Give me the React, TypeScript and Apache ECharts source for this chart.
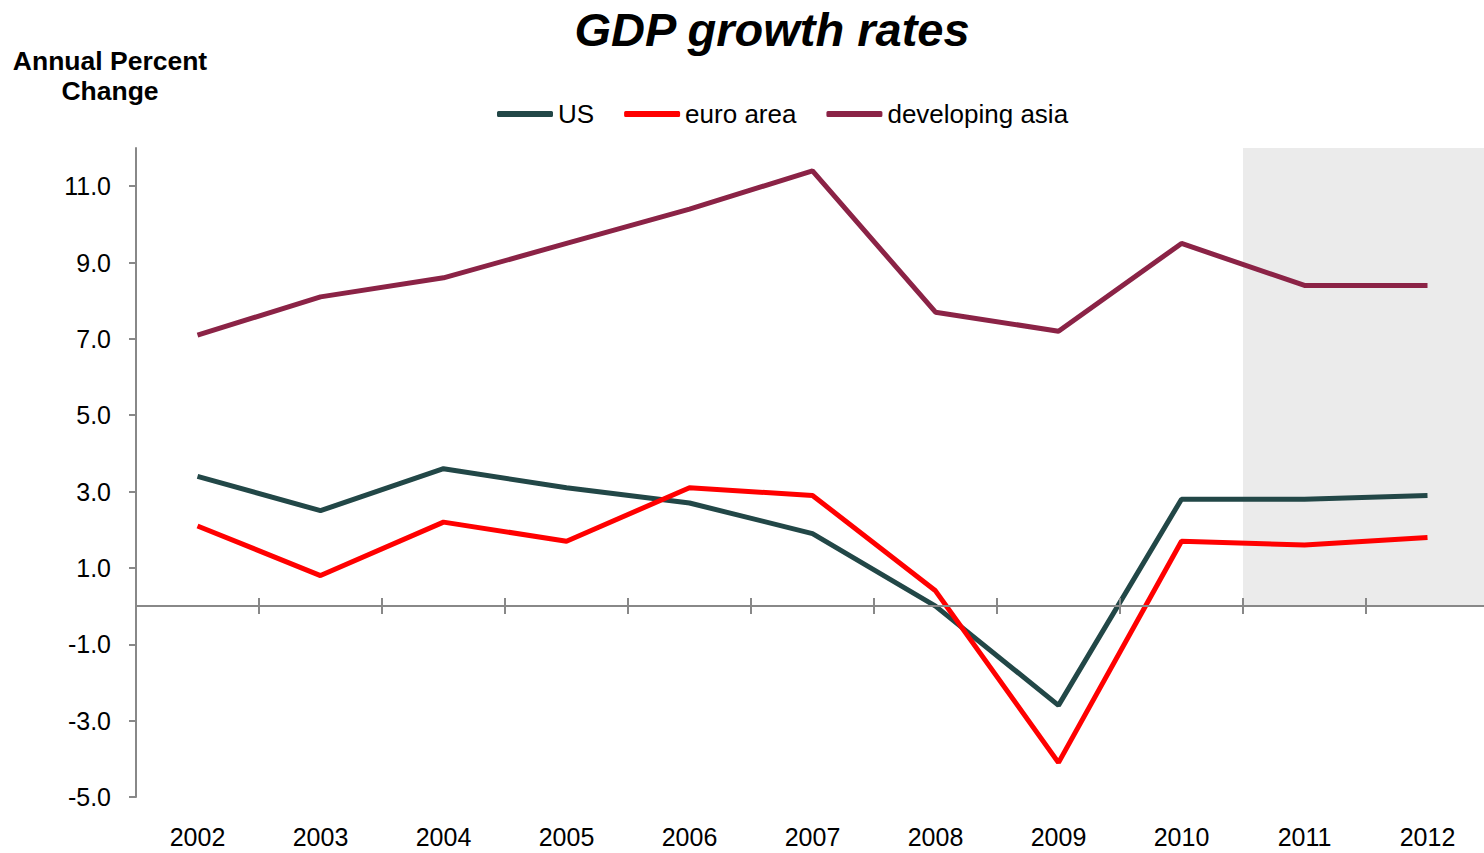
import React, { useEffect, useRef } from "react";
import * as echarts from "echarts";

const years = ["2002", "2003", "2004", "2005", "2006", "2007", "2008", "2009", "2010", "2011", "2012"];
const usGrowth = [3.4, 2.5, 3.6, 3.1, 2.7, 1.9, 0.0, -2.6, 2.8, 2.8, 2.9];
const euroGrowth = [2.1, 0.8, 2.2, 1.7, 3.1, 2.9, 0.4, -4.1, 1.7, 1.6, 1.8];
const asiaGrowth = [7.1, 8.1, 8.6, 9.5, 10.4, 11.4, 7.7, 7.2, 9.5, 8.4, 8.4];
const projectionYears = ["2011", "2012"];
const yTicks = [-5, -3, -1, 1, 3, 5, 7, 9, 11];
const yMin = -5;
const yMax = 12;
const seriesNames = ["US", "euro area", "developing asia"];
const titleText = "GDP growth rates";
const yAxisTitle = "Annual Percent\nChange";

const FONT = "'Liberation Sans', Arial, Helvetica, sans-serif";
const AXIS_GRAY = "#888888";

export default function App() {
  const ref = useRef<HTMLDivElement>(null);
  useEffect(() => {
    if (!ref.current) return;
    const chart = echarts.init(ref.current, undefined, { renderer: "svg" });
    const shade = years.map((y) => (projectionYears.includes(y) ? yMax : null));
    const tickAxisCommon = {
      type: "category",
      data: years,
      boundaryGap: true,
      axisLabel: { show: false },
      z: 5,
    };
    chart.setOption({
      animation: false,
      textStyle: { fontFamily: FONT },
      graphic: [
        {
          type: "text",
          x: 772,
          y: 6,
          style: {
            text: titleText,
            font: `italic bold 47px ${FONT}`,
            fill: "#000",
            textAlign: "center",
            textVerticalAlign: "top",
          },
        },
        {
          type: "text",
          x: 110,
          y: 46,
          style: {
            text: yAxisTitle,
            font: `bold 26.5px ${FONT}`,
            fill: "#000",
            textAlign: "center",
            textVerticalAlign: "top",
            lineHeight: 30,
          },
        },
      ],
      legend: {
        data: seriesNames,
        left: 492,
        top: 96,
        icon: "roundRect",
        itemWidth: 56,
        itemHeight: 6,
        itemGap: 30,
        textStyle: { fontSize: 26, color: "#000", fontFamily: FONT },
      },
      grid: { left: 136, right: 0, top: 148, bottom: 56, containLabel: false },
      xAxis: [
        {
          type: "category",
          data: years,
          position: "bottom",
          boundaryGap: true,
          axisLine: { show: false, onZero: false },
          axisTick: { show: false },
          axisLabel: { fontSize: 25, color: "#000", margin: 27, fontFamily: FONT },
        },
        {
          ...tickAxisCommon,
          position: "bottom",
          axisLine: { show: true, onZero: true, onZeroAxisIndex: 0, lineStyle: { color: AXIS_GRAY, width: 2 } },
          axisTick: { show: true, inside: true, length: 8, lineStyle: { color: AXIS_GRAY, width: 2 } },
        },
        {
          ...tickAxisCommon,
          position: "top",
          axisLine: { show: true, onZero: true, onZeroAxisIndex: 0, lineStyle: { color: AXIS_GRAY, width: 2 } },
          axisTick: { show: true, inside: true, length: 8, lineStyle: { color: AXIS_GRAY, width: 2 } },
        },
      ],
      yAxis: [
        {
          type: "value",
          min: yMin,
          max: yMax,
          interval: 2,
          axisLine: { show: true, lineStyle: { color: AXIS_GRAY, width: 2 } },
          axisTick: { show: true, length: 7, customValues: yTicks, lineStyle: { color: AXIS_GRAY, width: 2 } },
          axisLabel: {
            customValues: yTicks,
            formatter: (v: number) => v.toFixed(1),
            fontSize: 25,
            color: "#000",
            margin: 25,
            fontFamily: FONT,
          },
          splitLine: { show: false },
        },
      ],
      series: [
        {
          name: "projection",
          type: "bar",
          xAxisIndex: 1,
          data: shade,
          barWidth: "100%",
          barCategoryGap: "0%",
          itemStyle: { color: "#ebebeb" },
          silent: true,
          z: 1,
        },
        {
          name: "US",
          type: "line",
          xAxisIndex: 1,
          data: usGrowth,
          symbol: "none",
          lineStyle: { width: 5, color: "#224747" },
          itemStyle: { color: "#224747" },
          z: 3,
        },
        {
          name: "euro area",
          type: "line",
          xAxisIndex: 1,
          data: euroGrowth,
          symbol: "none",
          lineStyle: { width: 5, color: "#ff0000" },
          itemStyle: { color: "#ff0000" },
          z: 3,
        },
        {
          name: "developing asia",
          type: "line",
          xAxisIndex: 1,
          data: asiaGrowth,
          symbol: "none",
          lineStyle: { width: 5, color: "#8b2346" },
          itemStyle: { color: "#8b2346" },
          z: 3,
        },
      ],
    });
    return () => chart.dispose();
  }, []);
  return (
    <div
      style={{
        position: "absolute",
        left: 0,
        top: 0,
        width: 1484,
        height: 853,
        overflow: "hidden",
        background: "#fff",
      }}
    >
      <div ref={ref} style={{ position: "absolute", left: 0, top: 0, width: 1489, height: 853 }} />
    </div>
  );
}
